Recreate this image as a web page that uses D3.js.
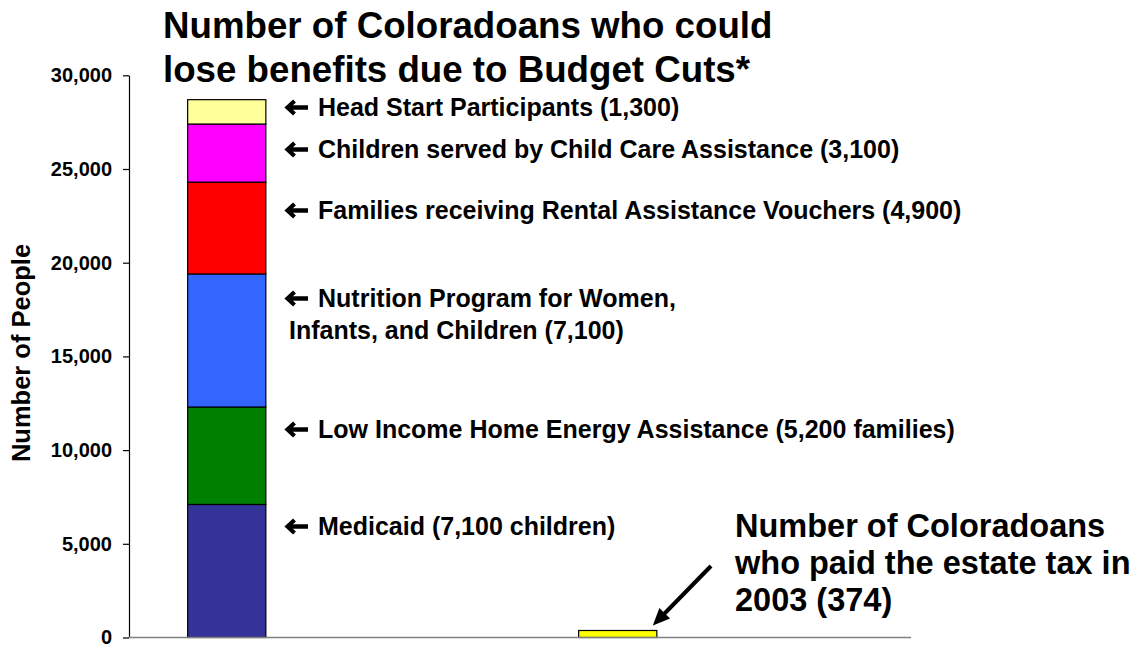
<!DOCTYPE html>
<html>
<head>
<meta charset="utf-8">
<script src="https://cdn.jsdelivr.net/npm/d3@7"></script>
<style>
  html, body { margin: 0; padding: 0; background: #fff; }
  svg { display: block; font-family: "Liberation Sans", Arial, sans-serif; }
</style>
</head>
<body>
<svg id="chart" width="1143" height="646"></svg>
<script>
// ---------------- data ----------------
const categories = ["Budget Cuts", "gap-1", "Estate Tax 2003", "gap-2"];
const programs = ["Medicaid", "Low Income Home Energy Assistance", "WIC Nutrition Program",
                  "Rental Assistance Vouchers", "Child Care Assistance", "Head Start"];
const budgetCutValues = [7100, 5200, 7100, 4900, 3100, 1300];
const estateTaxValue = [374];
const programColors = ["#333399", "#008000", "#3366FF", "#FF0000", "#FF00FF", "#FFFF99"];
const estateColor = "#FFFF00";
const yTicks = [0, 5000, 10000, 15000, 20000, 25000, 30000];
const titleLines = ["Number of Coloradoans who could", "lose benefits due to Budget Cuts*"];
const programLabels = [
  ["Medicaid (7,100 children)"],
  ["Low Income Home Energy Assistance (5,200 families)"],
  ["Nutrition Program for Women,", "Infants, and Children (7,100)"],
  ["Families receiving Rental Assistance Vouchers (4,900)"],
  ["Children served by Child Care Assistance (3,100)"],
  ["Head Start Participants (1,300)"]
];
const estateLines = ["Number of Coloradoans", "who paid the estate tax in", "2003 (374)"];
const yAxisTitle = "Number of People";

// ---------------- layout ----------------
const svg = d3.select("#chart");
const plot = { left: 129, right: 911, top: 75.3, bottom: 637.5 };
const labelBaselines = [535, 438, [307, 339], 219, 158, 116];

const x = d3.scaleBand().domain(categories).range([plot.left, plot.right]).padding(0);
const barW = x.bandwidth() / 2.5;
const y = d3.scaleLinear().domain([0, 30000]).range([plot.bottom, plot.top]);

// stacked segments
let acc = 0;
const segments = budgetCutValues.map((v, i) => {
  const s = { y0: acc, y1: acc + v, color: programColors[i], name: programs[i] };
  acc += v;
  return s;
});

// title
svg.append("g").selectAll("text").data(titleLines).join("text")
  .attr("x", 163).attr("y", (d, i) => 38 + i * 44)
  .attr("font-size", 36.7).attr("font-weight", "bold").attr("fill", "#000")
  .text(d => d);

// y axis
const yAxis = svg.append("g")
  .attr("transform", `translate(${plot.left},0)`)
  .call(d3.axisLeft(y).tickValues(yTicks).tickFormat(d3.format(",")).tickSizeInner(6).tickSizeOuter(0).tickPadding(11));
yAxis.select(".domain").attr("stroke", "#000").attr("stroke-width", 1.2);
yAxis.selectAll(".tick line").attr("stroke", "#000").attr("stroke-width", 1.2);
yAxis.selectAll(".tick text").attr("font-size", 20).attr("font-weight", "bold")
  .attr("font-family", "Liberation Sans, Arial, sans-serif").attr("fill", "#000");

// y axis title
svg.append("text")
  .attr("transform", `translate(30,353) rotate(-90)`)
  .attr("text-anchor", "middle").attr("font-size", 25.5).attr("font-weight", "bold")
  .text(yAxisTitle);

// stacked bar
const bx = x(categories[0]) + (x.bandwidth() - barW) / 2;
svg.append("g").selectAll("rect").data(segments).join("rect")
  .attr("x", bx).attr("width", barW)
  .attr("y", d => y(d.y1)).attr("height", d => y(d.y0) - y(d.y1))
  .attr("fill", d => d.color).attr("stroke", "#000").attr("stroke-width", 1.2);

// estate tax bar
const ex = x(categories[2]) + (x.bandwidth() - barW) / 2;
svg.append("g").selectAll("rect").data(estateTaxValue).join("rect")
  .attr("x", ex).attr("width", barW)
  .attr("y", d => y(d)).attr("height", d => y(0) - y(d))
  .attr("fill", estateColor).attr("stroke", "#000").attr("stroke-width", 1.2);

// x baseline
svg.append("line")
  .attr("x1", plot.left).attr("x2", plot.right)
  .attr("y1", y(0)).attr("y2", y(0))
  .attr("stroke", "#808080").attr("stroke-width", 1.5);

// program labels with arrows
const labelG = svg.append("g");
programLabels.forEach((lines, i) => {
  const bl = labelBaselines[i];
  const baselines = Array.isArray(bl) ? bl : [bl];
  lines.forEach((t, j) => {
    labelG.append("text")
      .attr("x", j === 0 ? 318 : 289).attr("y", baselines[j])
      .attr("font-size", 25).attr("font-weight", "bold").attr("fill", "#000")
      .text(t);
  });
  const cy = baselines[0] - 8.5;
  const ag = labelG.append("g").attr("transform", `translate(285,${cy})`);
  ag.append("path").attr("d", "M9.5,-6.5 L2.5,0 L9.5,6.5")
    .attr("fill", "none").attr("stroke", "#000").attr("stroke-width", 4.2)
    .attr("stroke-linejoin", "miter").attr("stroke-linecap", "butt");
  ag.append("line").attr("x1", 3).attr("x2", 23).attr("y1", 0).attr("y2", 0)
    .attr("stroke", "#000").attr("stroke-width", 4.5);
});

// estate tax annotation
svg.append("g").selectAll("text").data(estateLines).join("text")
  .attr("x", 735).attr("y", (d, i) => 537 + i * 37)
  .attr("font-size", 32.5).attr("font-weight", "bold").attr("fill", "#000")
  .text(d => d);

// diagonal arrow to the estate bar
const tip = [ex + barW - 4, y(estateTaxValue[0]) - 5];
const tail = [711, 566];
const ang = Math.atan2(tip[1] - tail[1], tip[0] - tail[0]);
const headLen = 17, headHalf = 7.5;
const baseP = [tip[0] - headLen * Math.cos(ang), tip[1] - headLen * Math.sin(ang)];
svg.append("line")
  .attr("x1", tail[0]).attr("y1", tail[1])
  .attr("x2", baseP[0] + 2 * Math.cos(ang)).attr("y2", baseP[1] + 2 * Math.sin(ang))
  .attr("stroke", "#000").attr("stroke-width", 4);
const p1 = [baseP[0] + headHalf * Math.sin(ang), baseP[1] - headHalf * Math.cos(ang)];
const p2 = [baseP[0] - headHalf * Math.sin(ang), baseP[1] + headHalf * Math.cos(ang)];
svg.append("path")
  .attr("d", `M${tip[0]},${tip[1]} L${p1[0]},${p1[1]} L${p2[0]},${p2[1]} Z`)
  .attr("fill", "#000");
</script>
</body>
</html>
